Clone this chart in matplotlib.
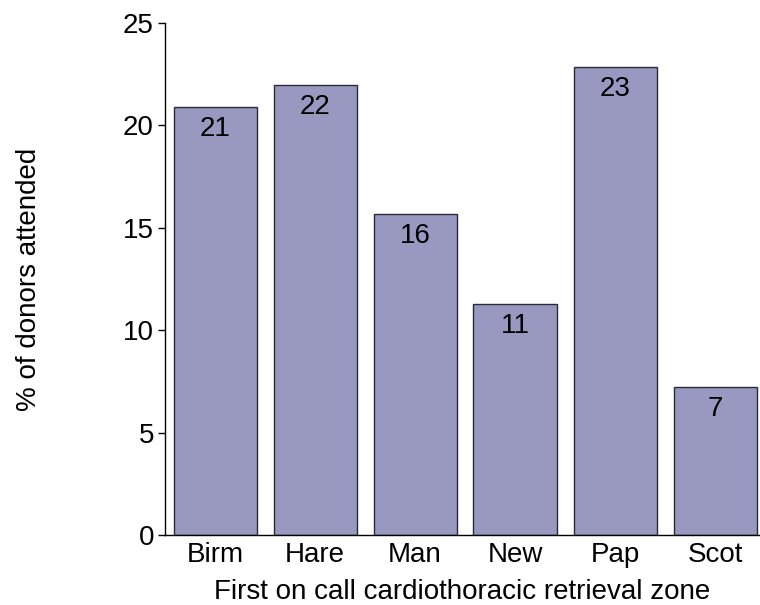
import matplotlib
matplotlib.use("Agg")
import matplotlib.pyplot as plt

zones = ["Birm", "Hare", "Man", "New", "Pap", "Scot"]
pct = [20.9, 21.95, 15.68, 11.3, 22.87, 7.25]
labels = ["21", "22", "16", "11", "23", "7"]
yticks = [0, 5, 10, 15, 20, 25]

plt.rcParams['font.family'] = ['Liberation Sans', 'DejaVu Sans']

W, H = 760, 605
FS = 20
fig = plt.figure(figsize=(W/100, H/100), dpi=100)
ax = fig.add_axes([165/W, (H-535)/H, (W-165)/W, (535-23)/H])

x = list(range(len(zones)))
bars = ax.bar(x, pct, width=0.83, color='#9898c0', edgecolor='#2a2a3a', linewidth=1.0)
for b, lab in zip(bars, labels):
    ax.annotate(lab, (b.get_x() + b.get_width()/2, b.get_height()),
                xytext=(0, -6.5), textcoords='offset points',
                ha='center', va='top', fontsize=FS, color='black')

ax.set_xlim(-0.5, 5.45)
ax.set_ylim(0, 25)
ax.set_yticks(yticks)
ax.set_xticks(x)
ax.set_xticklabels(zones)
ax.tick_params(axis='x', length=0, labelsize=FS, pad=5)
ax.tick_params(axis='y', length=5, width=1, labelsize=FS, direction='out', pad=3)
ax.spines['top'].set_visible(False)
ax.spines['right'].set_visible(False)
ax.spines['left'].set_linewidth(1)
ax.spines['bottom'].set_linewidth(1)
ax.set_xlabel("First on call cardiothoracic retrieval zone", fontsize=FS, labelpad=8)
ax.set_ylabel("% of donors attended", fontsize=FS, labelpad=58)

fig.savefig("out.png", dpi=100)
